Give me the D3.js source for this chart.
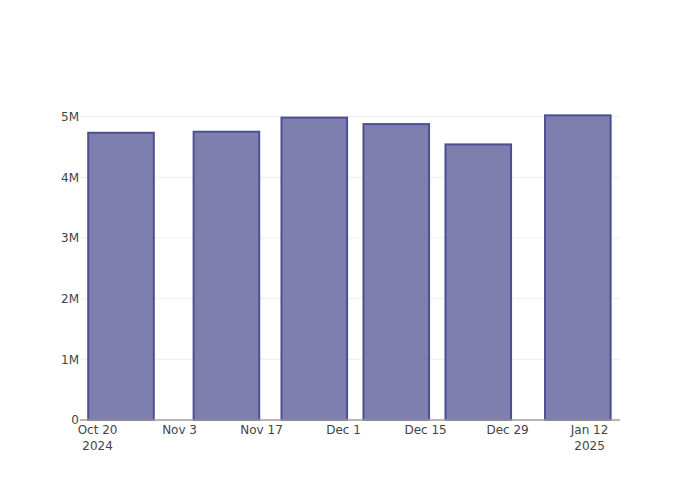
<!DOCTYPE html>
<html><head><meta charset="utf-8">
<script src="https://cdn.jsdelivr.net/npm/d3@7/dist/d3.min.js"></script>
<style>body{margin:0;background:#fff}svg{display:block}text{font-family:"DejaVu Sans",Verdana,sans-serif;fill:#444;font-size:12px}</style>
</head><body>
<svg id="chart" width="700" height="500"></svg>
<script>
const dates = ["2024-10-24","2024-11-11","2024-11-26","2024-12-10","2024-12-24","2025-01-10"];
const values = [4735000, 4752000, 4985000, 4878000, 4543000, 5022000];
const xTickDates = ["2024-10-20","2024-11-03","2024-11-17","2024-12-01","2024-12-15","2024-12-29","2025-01-12"];
const xTickLabels = [["Oct 20","2024"],["Nov 3"],["Nov 17"],["Dec 1"],["Dec 15"],["Dec 29"],["Jan 12","2025"]];
const yTicks = [0,1e6,2e6,3e6,4e6,5e6];
const yTickLabels = ["0","1M","2M","3M","4M","5M"];

const parse = s => new Date(s + "T00:00:00Z");
const DAY = 86400000;
const margin = {l:80, r:80, t:100, b:80};
const W = 700, H = 500;
const svg = d3.select("#chart");

const x = d3.scaleUtc()
  .domain([new Date(parse("2024-10-20").getTime() - 3.0*DAY), new Date(parse("2024-10-20").getTime() + 89.2*DAY)])
  .range([margin.l, W - margin.r]);
const y = d3.scaleLinear().domain([0, 5.275e6]).range([H - margin.b, margin.t]);

// gridlines
svg.append("g").selectAll("line").data(yTicks.slice(1)).join("line")
  .attr("x1", margin.l).attr("x2", W - margin.r)
  .attr("y1", d => y(d)).attr("y2", d => y(d))
  .attr("stroke", "#eeeeee").attr("stroke-width", 1);

// bars
const barW = 14 * 0.8 * DAY;
svg.append("g").selectAll("rect").data(dates.map((d,i)=>({d:parse(d), v:values[i]}))).join("rect")
  .attr("x", d => x(new Date(d.d.getTime() - barW/2)))
  .attr("width", d => x(new Date(d.d.getTime() + barW/2)) - x(new Date(d.d.getTime() - barW/2)))
  .attr("y", d => y(d.v))
  .attr("height", d => y(0) - y(d.v))
  .attr("fill", "rgb(127,127,175)")
  .attr("stroke", "rgb(78,78,145)")
  .attr("stroke-width", 2);

// x axis line
svg.append("line").attr("x1", margin.l).attr("x2", W - margin.r)
  .attr("y1", y(0)).attr("y2", y(0)).attr("stroke", "#9e9e9e").attr("stroke-width", 1.5);

// y tick labels
svg.append("g").selectAll("text").data(yTicks).join("text")
  .attr("x", margin.l - 1).attr("y", d => y(d)).attr("dy", "0.36em")
  .attr("text-anchor", "end").text((d,i) => yTickLabels[i]);

// x tick labels
const xg = svg.append("g").selectAll("text").data(xTickDates).join("text")
  .attr("text-anchor", "middle")
  .attr("x", d => x(parse(d))).attr("y", y(0) + 13.5);
xg.each(function(d,i){
  const t = d3.select(this);
  xTickLabels[i].forEach((s,j) => {
    t.append("tspan").attr("x", x(parse(d))).attr("dy", j ? 16 : 0).text(s);
  });
});
</script>
</body></html>
